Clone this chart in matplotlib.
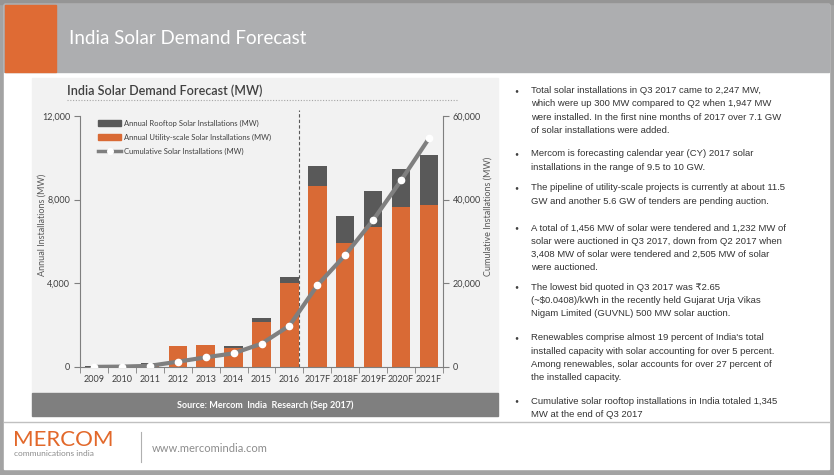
# coding: utf-8
"""India solar demand forecast slide, rebuilt with matplotlib."""

import matplotlib
matplotlib.use('Agg')
import matplotlib.pyplot as plt
from matplotlib.lines import Line2D
from matplotlib.patches import Patch, Rectangle
import numpy as np

plt.rcParams['font.family'] = ['Lato', 'DejaVu Sans']

YEARS = ['2009', '2010', '2011', '2012', '2013', '2014', '2015', '2016',
         '2017F', '2018F', '2019F', '2020F', '2021F']
UTILITY_MW = [10, 30, 150, 1000, 1050, 930, 2150, 4030, 8650, 5910, 6680, 7665, 7750]
ROOFTOP_MW = [20, 30, 40, 10, 10, 70, 180, 290, 960, 1320, 1740, 1800, 2390]
CUMULATIVE_MW = [30, 90, 280, 1270, 2310, 3270, 5570, 9870, 19530, 26770, 35140, 44630, 54670]
LEFT_TICKS = [0, 4000, 8000, 12000]
RIGHT_TICKS = [0, 20000, 40000, 60000]

BULLETS = [
    ['Total solar installations in Q3 2017 came to 2,247 MW,',
     'which were up 300 MW compared to Q2 when 1,947 MW',
     'were installed. In the first nine months of 2017 over 7.1 GW',
     'of solar installations were added.'],
    ['Mercom is forecasting calendar year (CY) 2017 solar',
     'installations in the range of 9.5 to 10 GW.'],
    ['The pipeline of utility-scale projects is currently at about 11.5',
     'GW and another 5.6 GW of tenders are pending auction.'],
    ['A total of 1,456 MW of solar were tendered and 1,232 MW of',
     'solar were auctioned in Q3 2017, down from Q2 2017 when',
     '3,408 MW of solar were tendered and 2,505 MW of solar',
     'were auctioned.'],
    ['The lowest bid quoted in Q3 2017 was \u20b92.65',
     '(~$0.0408)/kWh in the recently held Gujarat Urja Vikas',
     'Nigam Limited (GUVNL) 500 MW solar auction.'],
    ["Renewables comprise almost 19 percent of India's total",
     'installed capacity with solar accounting for over 5 percent.',
     'Among renewables, solar accounts for over 27 percent of',
     'the installed capacity.'],
    ['Cumulative solar rooftop installations in India totaled 1,345',
     'MW at the end of Q3 2017'],
]
BULLET_TOPS = [90.7, 154, 188, 228, 287, 338, 401]

W, H = 834, 475
ORANGE = '#d96a35'
DARK = '#595959'
LINE_GRAY = '#7f7f7f'
TEXT = '#404040'


def draw_slide(bg):
    bg.set_xlim(0, W)
    bg.set_ylim(H, 0)
    bg.axis('off')
    bg.add_patch(Rectangle((0, 0), W, H, color='#a3a3a3'))
    bg.add_patch(Rectangle((0, 0), W, 4, color='#959595'))
    bg.add_patch(Rectangle((4, 4), 825, 465, color='white'))
    bg.add_patch(Rectangle((4, 4), 825, 68, color='#adaeb0'))
    bg.add_patch(Rectangle((5, 5), 51, 67, color='#df6b34'))
    bg.add_patch(Rectangle((32, 78), 466, 315, color='#f2f2f2'))
    bg.add_patch(Rectangle((32, 393), 466, 23, color='#7f7f7f'))
    bg.plot([4, 829], [422, 422], color='#c0c0c0', lw=1)
    bg.plot([141, 141], [432, 462], color='#b0b0b0', lw=0.8)
    bg.plot([67, 458], [100, 100], color='#a6a6a6', lw=0.8, ls=(0, (1, 1.5)))

    bg.text(69, 38, 'India Solar Demand Forecast', color='white', fontsize=13.5,
            va='center', ha='left')
    bg.text(67, 91, 'India Solar Demand Forecast (MW)', color=TEXT, fontsize=9,
            fontweight='semibold', va='center', ha='left')
    bg.text(265, 405, 'Source: Mercom  India  Research (Sep 2017)', color='white',
            fontsize=6.5, fontweight='bold', va='center', ha='center')

    bg.text(13, 440, 'MERCOM', color='#e2682a', fontsize=16, va='center', ha='left')
    bg.text(14, 454, 'communications india', color='#8c8c8c', fontsize=6,
            va='center', ha='left')
    bg.text(152, 448, 'www.mercomindia.com', color='#8c8c8c', fontsize=8,
            va='center', ha='left')

    for top, lines in zip(BULLET_TOPS, BULLETS):
        bg.text(516, top, '\u2022', color=TEXT, fontsize=5, va='center', ha='center')
        for i, line in enumerate(lines):
            bg.text(531, top + i * 13.3, line, color='#333333', fontsize=6.8,
                    family=['Liberation Sans', 'DejaVu Sans'], va='center', ha='left')


def draw_chart(fig):
    ax = fig.add_axes([80 / W, 1 - 367 / H, 363 / W, 251 / H])
    ax.set_facecolor('none')
    x = np.arange(len(YEARS))
    ax.bar(x, UTILITY_MW, width=0.66, color=ORANGE, zorder=2)
    ax.bar(x, ROOFTOP_MW, bottom=UTILITY_MW, width=0.66, color=DARK, zorder=2)
    ax.axvline(7.36, ymin=0, ymax=1.025, color='#595959', lw=0.8,
               ls=(0, (3, 2)), clip_on=False, zorder=1)
    ax.set_xlim(-0.5, 12.43)
    ax.set_ylim(0, 12000)
    ax.set_yticks(LEFT_TICKS)
    ax.set_yticklabels([f'{v:,}' for v in LEFT_TICKS])
    ax.set_xticks(x)
    ax.set_xticklabels(YEARS)
    ax.set_xticks(np.arange(-0.5, len(YEARS), 1.0), minor=True)
    ax.tick_params(axis='x', which='major', length=0, pad=6, labelsize=6.5, labelcolor=TEXT)
    ax.tick_params(axis='x', which='minor', length=4, color=LINE_GRAY, direction='out')
    ax.tick_params(axis='y', length=4, color=LINE_GRAY, pad=3, labelsize=6.5, labelcolor=TEXT)
    for side in ['top', 'right']:
        ax.spines[side].set_visible(False)
    for side in ['left', 'bottom']:
        ax.spines[side].set_color(LINE_GRAY)
        ax.spines[side].set_linewidth(0.8)
    ax.set_ylabel('Annual Installations (MW)', fontsize=6.5, color='#595959')
    ax.yaxis.set_label_coords(-0.092, 0.566)

    ax2 = ax.twinx()
    ax2.plot(x, CUMULATIVE_MW, color=LINE_GRAY, lw=3, marker='o', ms=4.5,
             mfc='white', mec='white', solid_capstyle='round', zorder=3)
    ax2.set_ylim(0, 60000)
    ax2.set_yticks(RIGHT_TICKS)
    ax2.set_yticklabels([f'{v:,}' for v in RIGHT_TICKS])
    ax2.tick_params(axis='y', length=4, color=LINE_GRAY, pad=3, labelsize=6.5, labelcolor=TEXT)
    for side in ['top', 'left', 'bottom']:
        ax2.spines[side].set_visible(False)
    ax2.spines['right'].set_color(LINE_GRAY)
    ax2.spines['right'].set_linewidth(0.8)
    ax2.set_ylabel('Cumulative Installations (MW)', fontsize=6.5, color='#595959')
    ax2.yaxis.set_label_coords(1.112, 0.60)

    handles = [
        Patch(color=DARK),
        Patch(color=ORANGE),
        Line2D([], [], color=LINE_GRAY, lw=2.5, marker='o', ms=4, mfc='white', mec='white'),
    ]
    labels = ['Annual Rooftop Solar Installations (MW)',
              'Annual Utility-scale Solar Installations (MW)',
              'Cumulative Solar Installations (MW)']
    leg = ax2.legend(handles, labels, loc='upper left', bbox_to_anchor=(0.05, 0.985),
                     frameon=False, fontsize=5.5, handlelength=3.0, handletextpad=0.4,
                     labelspacing=0.9, borderpad=0, borderaxespad=0)
    for t in leg.get_texts():
        t.set_color(TEXT)


def main():
    fig = plt.figure(figsize=(W / 100, H / 100), dpi=100)
    bg = fig.add_axes([0, 0, 1, 1])
    draw_slide(bg)
    draw_chart(fig)
    fig.savefig('out.png', dpi=100)
    plt.close(fig)


if __name__ == '__main__':
    main()
